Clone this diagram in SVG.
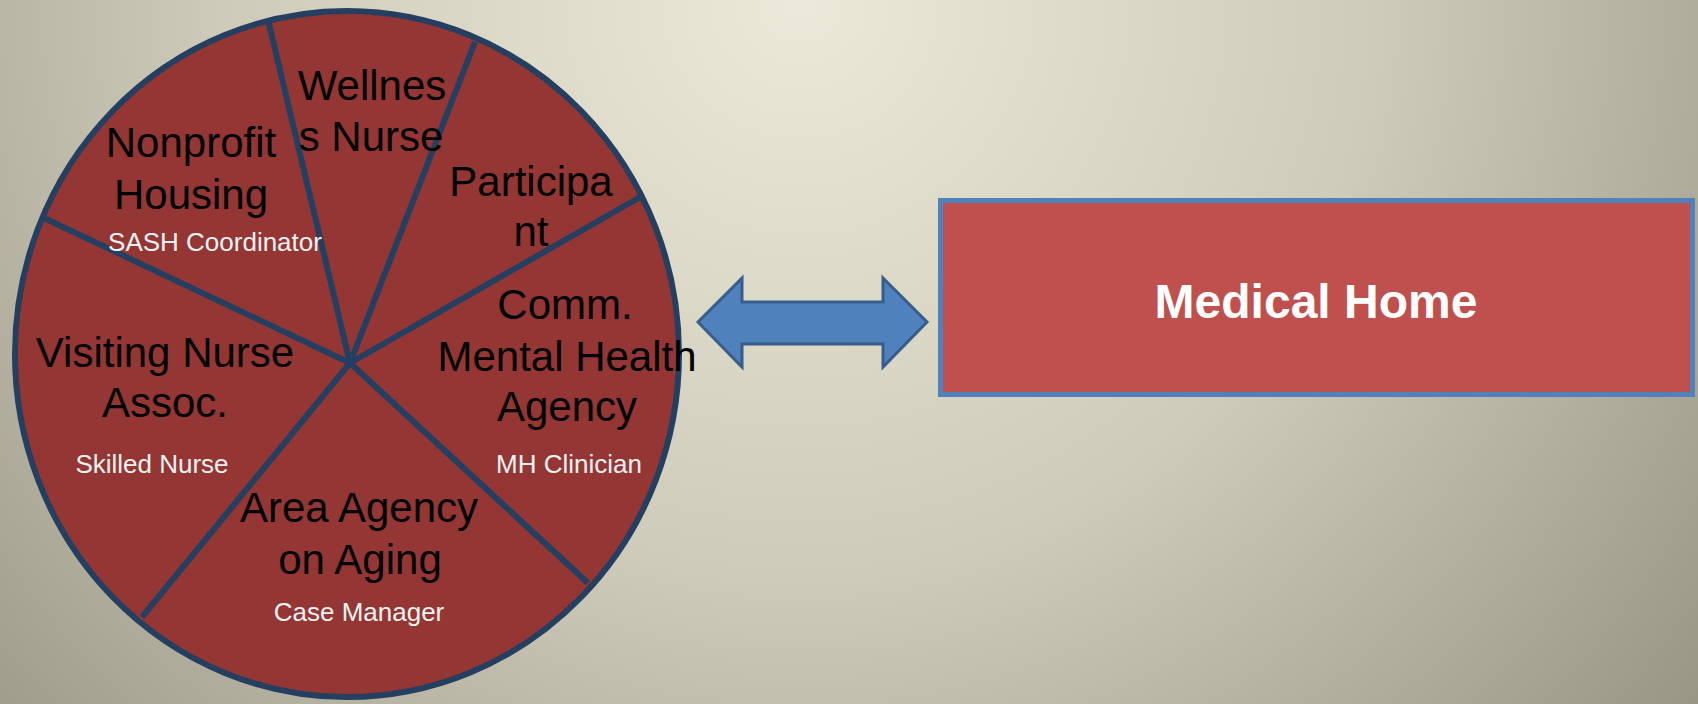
<svg xmlns="http://www.w3.org/2000/svg" width="1698" height="704" viewBox="0 0 1698 704">
  <defs>
    <radialGradient id="bg" gradientUnits="userSpaceOnUse" cx="800" cy="0" r="1150">
      <stop offset="0" stop-color="#ECE9DA"/>
      <stop offset="0.5" stop-color="#CFCBBA"/>
      <stop offset="1" stop-color="#989585"/>
    </radialGradient>
    <style>
      .spoke { stroke: #243F60; stroke-width: 6; stroke-linecap: butt; fill: none; }
      .big { font-family: "Liberation Sans", Arial, sans-serif; font-size: 42px; fill: #000000; text-anchor: middle; }
      .small { font-family: "Liberation Sans", Arial, sans-serif; font-size: 26px; fill: #F2F2F2; text-anchor: middle; }
      .home { fill: #C0504D; stroke: #4F81BD; stroke-width: 5; }
      .homeText { font-family: "Liberation Sans", Arial, sans-serif; font-size: 48px; font-weight: bold; fill: #FFFFFF; text-anchor: middle; }
      .arrow { fill: #4F81BD; stroke: #385D8A; stroke-width: 3; stroke-linejoin: miter; }
    </style>
  </defs>

  <rect x="0" y="0" width="1698" height="704" fill="url(#bg)"/>

  <!-- pie of partner agencies -->
  <g id="pie">
    <ellipse cx="347" cy="354" rx="332" ry="343" fill="#943634"/>
    <g id="spokes">
      <line class="spoke" x1="350" y1="363" x2="268" y2="20"/>
      <line class="spoke" x1="350" y1="363" x2="475" y2="42"/>
      <line class="spoke" x1="350" y1="363" x2="642" y2="196"/>
      <line class="spoke" x1="350" y1="363" x2="588" y2="583"/>
      <line class="spoke" x1="350" y1="363" x2="142" y2="617"/>
      <line class="spoke" x1="350" y1="363" x2="44" y2="218"/>
    </g>
    <ellipse cx="347" cy="354" rx="332" ry="343" fill="none" stroke="#243F60" stroke-width="6"/>
  </g>

  <g id="nonprofit-housing">
    <text class="big" x="191" y="157">Nonprofit</text>
    <text class="big" x="191" y="209">Housing</text>
    <text class="small" x="215" y="251">SASH Coordinator</text>
  </g>

  <g id="wellness-nurse">
    <text class="big" x="372" y="100">Wellnes</text>
    <text class="big" x="371" y="151">s Nurse</text>
  </g>

  <g id="participant">
    <text class="big" x="531" y="196">Participa</text>
    <text class="big" x="531" y="246">nt</text>
  </g>

  <g id="mental-health">
    <text class="big" x="565" y="319">Comm.</text>
    <text class="big" x="567" y="371">Mental Health</text>
    <text class="big" x="567" y="421">Agency</text>
    <text class="small" x="569" y="473">MH Clinician</text>
  </g>

  <g id="visiting-nurse">
    <text class="big" x="165" y="367">Visiting Nurse</text>
    <text class="big" x="165" y="417">Assoc.</text>
    <text class="small" x="152" y="473">Skilled Nurse</text>
  </g>

  <g id="area-agency">
    <text class="big" x="359" y="522">Area Agency</text>
    <text class="big" x="360" y="574">on Aging</text>
    <text class="small" x="359" y="621">Case Manager</text>
  </g>

  <!-- two-way link -->
  <g id="connectors">
    <path class="arrow" d="M698,322 L742,278 L742,302 L883,302 L883,278 L927,322 L883,367 L883,344 L742,344 L742,367 Z"/>
  </g>

  <g id="medical-home">
    <rect class="home" x="940.5" y="200.5" width="752" height="194"/>
    <text class="homeText" x="1316" y="318">Medical Home</text>
  </g>
</svg>
